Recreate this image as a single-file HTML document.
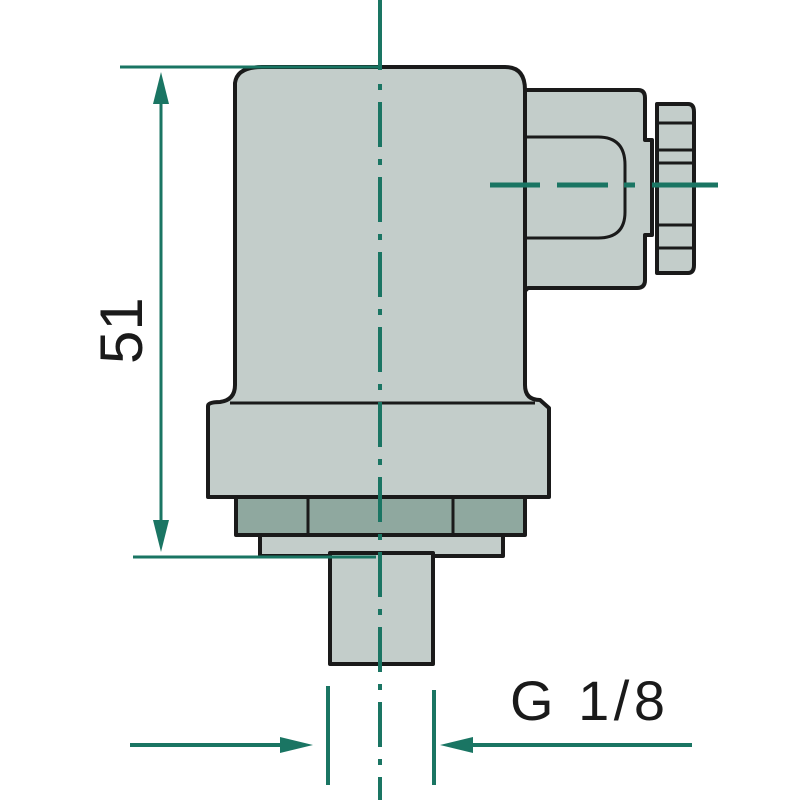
<!DOCTYPE html>
<html><head><style>html,body{margin:0;padding:0;background:#fff}svg{display:block}</style></head>
<body>
<svg width="800" height="800" viewBox="0 0 800 800" xmlns="http://www.w3.org/2000/svg">
<g stroke="#1a1a1a" stroke-width="4" fill="#c3cdca" stroke-linejoin="round">
  <path d="M520 90 H638 Q645 90 645 98 V140 H652 V235 H645 V280 Q645 288 637 288 H528 L520 296 Z"/>
  <path d="M525 137 H598 Q625 137 625 165 V212 Q625 238 598 238 H525" fill="none" stroke-width="3"/>
  <path d="M657 104 H688 Q694 104 694 112 V265 Q694 273 688 273 H657 Z"/>
  <g stroke-width="3" fill="none">
    <line x1="659" y1="123" x2="692" y2="123"/>
    <line x1="659" y1="150" x2="692" y2="150"/>
    <line x1="659" y1="163" x2="692" y2="163"/>
    <line x1="659" y1="225" x2="692" y2="225"/>
    <line x1="659" y1="248" x2="692" y2="248"/>
  </g>
  <path d="M235 83 Q237 67 262 67 H505 Q525 67 525 90 V385 Q525 400 540 400 L549 408 V497 H208 V406 Q208 402 220 402 Q235 400 235 385 Z"/>
  <line x1="230" y1="403" x2="535" y2="403" stroke-width="3"/>
  <rect x="236" y="497" width="289" height="38" fill="#8fa89f"/>
  <line x1="308" y1="497" x2="308" y2="535" stroke-width="3"/>
  <line x1="453" y1="497" x2="453" y2="535" stroke-width="3"/>
  <rect x="260" y="535" width="243" height="21"/>
  <rect x="330" y="553" width="103" height="111"/>
</g>
<g stroke="#1a7563" fill="#1a7563">
  <line x1="380" y1="0" x2="380" y2="70" stroke-width="4"/>
  <line x1="380" y1="84" x2="380" y2="800" stroke-width="4" stroke-dasharray="6 12 45 12"/>
  <g stroke-width="5">
    <line x1="490" y1="185" x2="540" y2="185"/>
    <line x1="557" y1="185" x2="608" y2="185"/>
    <line x1="624" y1="185" x2="635" y2="185"/>
    <line x1="652" y1="185" x2="718" y2="185"/>
  </g>
  <line x1="120" y1="67" x2="380" y2="67" stroke-width="3"/>
  <line x1="133" y1="557" x2="376" y2="557" stroke-width="3"/>
  <line x1="161" y1="90" x2="161" y2="535" stroke-width="3"/>
  <polygon points="161,72 153,104 169,104" stroke="none"/>
  <polygon points="161,552 153,520 169,520" stroke="none"/>
  <line x1="328" y1="686" x2="328" y2="785" stroke-width="4"/>
  <line x1="434" y1="690" x2="434" y2="785" stroke-width="4"/>
  <line x1="130" y1="745" x2="285" y2="745" stroke-width="4"/>
  <polygon points="313,745 280,737 280,753" stroke="none"/>
  <line x1="470" y1="745" x2="692" y2="745" stroke-width="4"/>
  <polygon points="440,745 473,737 473,753" stroke="none"/>
</g>
<text x="0" y="0" transform="translate(142,364) rotate(-90)" font-family="Liberation Sans, sans-serif" font-size="60" fill="#1a1a1a">51</text>
<text x="510" y="720" font-family="Liberation Sans, sans-serif" font-size="56" fill="#1a1a1a" textLength="155">G 1/8</text>
</svg>
</body></html>
